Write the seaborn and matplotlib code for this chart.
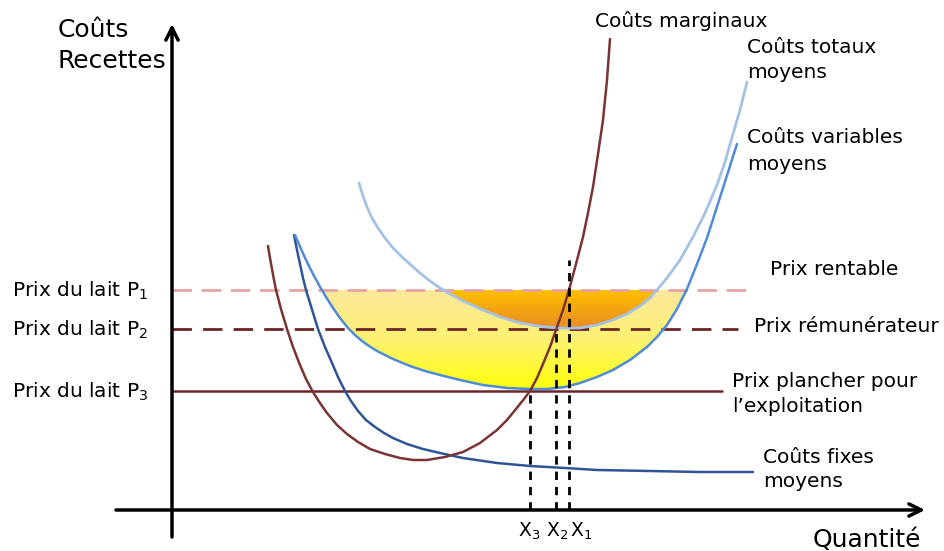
"""Courbes de coûts et prix du lait"""

import matplotlib

matplotlib.use("Agg")
import matplotlib.pyplot as plt
import numpy as np
import pandas as pd
import seaborn as sns
from matplotlib.colors import LinearSegmentedColormap

# quantité (q) / coût (c)
cm_q = [96, 98, 100, 102, 104, 109, 115, 121, 128, 134, 141, 148, 155, 165,
        175, 186, 198, 213, 228, 241, 255, 273, 291, 308, 325, 335, 344, 352,
        358, 365, 371, 378, 384, 391, 397, 404, 411, 416, 421, 426, 431, 435,
        438]
cm_c = [264, 252, 241, 230, 220, 201, 181, 163, 145, 131, 118, 107, 97, 85,
        76, 68, 61, 56, 52, 50, 50, 53, 58, 67, 80, 90, 101, 111,
        119, 132, 146, 163, 180, 200, 220, 246, 273, 297, 323, 356, 390, 430,
        471]

cfm_q = [122, 125, 128, 131, 134, 138, 142, 146, 153, 160, 166, 173, 179,
         186, 194, 203, 212, 221, 235, 251, 268, 291, 325, 358, 393, 425,
         478, 528, 581]
cfm_c = [275, 260, 246, 232, 220, 207, 194, 181, 163, 147, 133, 119, 109,
         99, 90, 83, 77, 72, 66, 61, 57, 52, 47, 44, 42, 40,
         39, 38, 38]

cvm_q = [123, 129, 135, 141, 147, 154, 161, 168, 176, 183, 190, 197, 205,
         221, 238, 253, 268, 288, 311, 335, 358, 375, 393, 408, 425, 441,
         458, 475, 485, 495, 505, 515, 525, 535, 543, 551, 558, 565]
cvm_c = [275, 261, 248, 236, 225, 213, 202, 192, 182, 175, 169, 164, 159,
         151, 144, 139, 135, 130, 125, 122, 121, 121, 123, 127, 133, 140,
         150, 163, 173, 185, 201, 221, 246, 272, 297, 322, 344, 366]

ctm_q = [187, 191, 195, 200, 206, 213, 221, 230, 239, 248, 258, 268, 280,
         291, 311, 328, 345, 365, 385, 408, 425, 441, 455, 468, 478, 485,
         495, 508, 521, 533, 545, 553, 561, 568, 575]
ctm_c = [327, 314, 303, 292, 282, 272, 262, 253, 245, 237, 229, 222, 215,
         209, 200, 193, 188, 184, 182, 182, 185, 190, 196, 204, 212, 220,
         232, 250, 273, 297, 325, 348, 376, 400, 428]

prix = [220, 181, 119]  # P1, P2, P3
prix_fin = [575, 566, 550]
quantites = [358, 384, 397]  # X3, X2, X1
quantites_haut = [119, 181, 250]

BROWN = "#7a3434"
PRICE_DARK = "#6b2525"


def gradient_fill(ax, x, y, level, colors, lo, hi):
    """fill between curve and price level with a vertical gradient"""
    x = np.asarray(x, float)
    y = np.asarray(y, float)
    poly = ax.fill_between(x, y, level, where=y <= level, interpolate=True,
                           facecolor="none", edgecolor="none", zorder=2)
    cmap = LinearSegmentedColormap.from_list("g", colors)
    grad = np.linspace(0, 1, 256).reshape(-1, 1)
    im = ax.imshow(grad, cmap=cmap, aspect="auto", origin="lower",
                   extent=[x.min(), x.max(), lo, hi], zorder=2,
                   interpolation="bicubic")
    im.set_clip_path(poly.get_paths()[0], ax.transData)


def main():
    sns.set_theme(style="white")
    plt.rcParams["font.family"] = ["DejaVu Sans"]
    plt.rcParams["text.color"] = "black"
    fig = plt.figure(figsize=(9.45, 5.51), dpi=100)
    ax = fig.add_axes([0, 0, 1, 1])
    ax.set_axis_off()

    # shaded zones
    gradient_fill(ax, cvm_q, cvm_c, prix[0],
                  ["#ffff0a", "#fdf272", "#fbe89c"], min(cvm_c), prix[0])
    gradient_fill(ax, ctm_q, ctm_c, prix[0],
                  ["#e88b22", "#ffc000"], min(ctm_c), prix[0])

    # price lines
    ax.plot([0, prix_fin[0]], [prix[0]] * 2, color="#e6a3a3", lw=2,
            dashes=(7, 3.5), zorder=3)
    ax.plot([0, prix_fin[1]], [prix[1]] * 2, color=PRICE_DARK, lw=2,
            dashes=(7, 4), zorder=3)
    ax.plot([0, prix_fin[2]], [prix[2]] * 2, color=PRICE_DARK, lw=1.8,
            zorder=3)

    # curves
    curves = [
        (cfm_q, cfm_c, "#2f5597", 1.8),
        (cvm_q, cvm_c, "#4f8bd6", 1.8),
        (ctm_q, ctm_c, "#a5c2e6", 2.0),
        (cm_q, cm_c, BROWN, 1.8),
    ]
    for q, c, color, lw in curves:
        df = pd.DataFrame({"q": q, "c": c})
        sns.lineplot(data=df, x="q", y="c", sort=False, estimator=None,
                     color=color, lw=lw, ax=ax, zorder=4,
                     solid_joinstyle="round")

    # vertical dashed guides
    for xq, top in zip(quantites, quantites_haut):
        ax.plot([xq, xq], [0, top], color="black", lw=2, dashes=(3, 2.5),
                zorder=5)

    # axes with arrows
    arrow = dict(arrowstyle="->", lw=2.5, color="black", mutation_scale=22,
                 shrinkA=0, shrinkB=0)
    ax.annotate("", xy=(753, 0), xytext=(-56, 0), arrowprops=arrow, zorder=6)
    ax.annotate("", xy=(0, 486), xytext=(0, -27), arrowprops=arrow, zorder=6)

    big = 18
    small = 14.5
    ax.text(-114, 480, "Coûts", fontsize=big, va="center")
    ax.text(-114, 449, "Recettes", fontsize=big, va="center")
    ax.text(641, -37, "Quantité", fontsize=big, va="baseline")

    for i, p in enumerate(prix):
        ax.text(-160, p - 7, f"Prix du lait P$_{i + 1}$", fontsize=small,
                va="baseline")

    for xq, lab in zip([346, 374, 398], ["X$_3$", "X$_2$", "X$_1$"]):
        ax.text(xq, -27, lab, fontsize=13.5, va="baseline")

    labels = [
        (423, 483, "Coûts marginaux"),
        (575, 457, "Coûts totaux"),
        (575, 432, "moyens"),
        (575, 367, "Coûts variables"),
        (575, 340, "moyens"),
        (598, 235, "Prix rentable"),
        (582, 178, "Prix rémunérateur"),
        (560, 123, "Prix plancher pour"),
        (560, 98, "l\u2019exploitation"),
        (591, 47, "Coûts fixes"),
        (591, 23, "moyens"),
    ]
    for xq, yc, lab in labels:
        ax.text(xq, yc, lab, fontsize=small, va="baseline")

    ax.set_xlim(-172, 773)
    ax.set_ylim(-41, 510)
    ax.set_xlabel("")
    ax.set_ylabel("")
    fig.savefig("out.png", dpi=100, facecolor="white")


if __name__ == "__main__":
    main()
